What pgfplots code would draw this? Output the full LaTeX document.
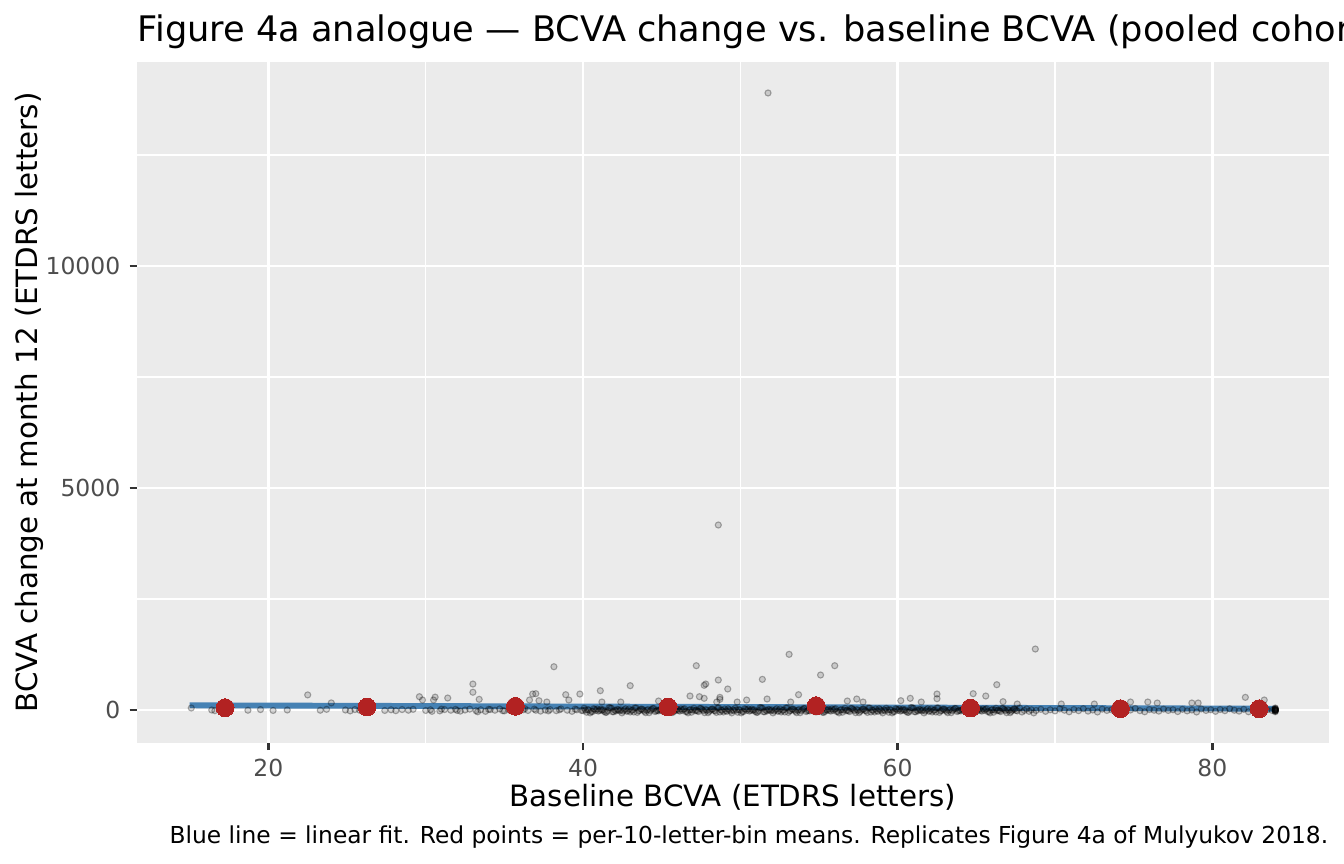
\documentclass[border=0pt]{standalone}
\usepackage{fontspec}
\setmainfont{DejaVu Sans}
\usepackage{pgfplots}
\pgfplotsset{compat=1.18}

\definecolor{panelgray}{HTML}{EBEBEB}
\definecolor{tickgray}{HTML}{333333}
\definecolor{labelgray}{HTML}{4D4D4D}
\definecolor{steelblue}{HTML}{4682B4}
\definecolor{firebrick}{HTML}{B22222}

\begin{document}
\begin{tikzpicture}
\begin{axis}[
  at={(51.375pt,45.49pt)}, anchor=south west,
  scale only axis, width=446.9pt, height=255.15pt,
  xmin=11.65, xmax=87.4, ymin=-736, ymax=14586,
  axis background/.style={fill=panelgray},
  axis line style={draw=none},
  xtick={20,40,60,80}, ytick={0,5000,10000},
  minor xtick={30,50,70}, minor ytick={2500,7500,12500},
  grid=both,
  major grid style={white, line width=1.07pt},
  minor grid style={white, line width=0.53pt},
  tick align=outside, xtick pos=lower, ytick pos=lower,
  major tick length=2.75pt, minor tick length=0pt,
  major tick style={tickgray, line width=1.07pt},
  ticklabel style={font=\fontsize{8.8}{10}\selectfont, text=labelgray},
  /pgf/number format/assume math mode=true,
  /pgf/number format/1000 sep={},
  scaled ticks=false,
]

% individual eyes
\addplot[only marks, mark=*, mark size=1.15pt,
  mark options={draw=black, fill=black, draw opacity=0.3, fill opacity=0.14, line width=0.4pt}]
coordinates {
(15.1,45)(16.4,0)(16.6,-15)(17.6,5)(18.7,-5)(19.5,10)(20.3,-10)(21.2,0)(23.3,-5)(23.7,15)
(24.9,0)(25.2,-20)(25.5,10)(25.8,-5)(26.6,20)(27.4,-10)(27.8,5)(28.1,-15)(28.5,10)(28.9,-5)(29.2,15)
(30.0,-10)(30.3,5)(30.9,-20)(31.2,10)(31.6,-5)(31.9,15)(32.2,-25)(32.5,0)(32.8,20)(33.2,-15)
(33.5,5)(33.8,-30)(34.1,10)(34.4,-5)(34.7,25)(35.0,-20)(35.3,0)(35.6,15)(35.9,-35)(36.2,5)
(36.5,-10)(36.9,20)(37.3,-25)(37.6,0)(37.9,10)(38.3,-15)(38.6,25)(39.0,-5)(39.3,-30)(39.6,5)(39.9,-10)
(30.4,-30)(31.0,20)(32.0,-10)(33.3,-40)(34.0,15)(34.9,-15)(35.5,-25)(36.3,30)(37.0,-5)(37.8,-20)(38.5,5)(39.5,20)
(40.0,-15)(40.15,0)(40.3,10)(40.45,-65)(40.6,-35)(40.75,15)(40.9,25)(41.05,-10)(41.2,-5)(41.35,-30)(41.5,-50)(41.65,55)(41.8,40)(41.95,-40)(42.1,-20)(42.25,5)
(42.4,5)(42.55,-25)(42.7,30)(42.85,-15)(43.0,-45)(43.15,0)(43.3,45)(43.45,-55)(43.6,-10)(43.75,20)(43.9,-30)(44.05,-5)(44.2,-60)(44.35,10)(44.5,35)(44.65,-20)
(44.8,-20)(44.95,15)(45.1,-5)(45.25,-40)(45.4,50)(45.55,-15)(45.7,-55)(45.85,5)(46.0,20)(46.15,-25)(46.3,-10)(46.45,30)(46.6,-35)(46.75,0)(46.9,-50)(47.05,40)
(47.2,-5)(47.35,-35)(47.5,35)(47.65,-15)(47.8,10)(47.95,-60)(48.1,0)(48.25,20)(48.4,-20)(48.55,45)(48.7,-45)(48.85,-10)(49.0,25)(49.15,-30)(49.3,5)(49.45,-65)
(49.6,-15)(49.75,0)(49.9,10)(50.05,-65)(50.2,-35)(50.35,15)(50.5,25)(50.65,-10)(50.8,-5)(50.95,-30)(51.1,-50)(51.25,55)(51.4,40)(51.55,-40)(51.7,-20)(51.85,5)
(52.0,5)(52.15,-25)(52.3,30)(52.45,-15)(52.6,-45)(52.75,0)(52.9,45)(53.05,-55)(53.2,-10)(53.35,20)(53.5,-30)(53.65,-5)(53.8,-60)(53.95,10)(54.1,35)(54.25,-20)
(54.4,-20)(54.55,15)(54.7,-5)(54.85,-40)(55.0,50)(55.15,-15)(55.3,-55)(55.45,5)(55.6,20)(55.75,-25)(55.9,-10)(56.05,30)(56.2,-35)(56.35,0)(56.5,-50)(56.65,40)
(56.8,-5)(56.95,-35)(57.1,35)(57.25,-15)(57.4,10)(57.55,-60)(57.7,0)(57.85,20)(58.0,-20)(58.15,45)(58.3,-45)(58.45,-10)(58.6,25)(58.75,-30)(58.9,5)(59.05,-65)
(59.2,-15)(59.35,0)(59.5,10)(59.65,-65)(59.8,-35)(59.95,15)(60.1,25)(60.25,-10)(60.4,-5)(60.55,-30)(60.7,-50)(60.85,55)(61.0,40)(61.15,-40)(61.3,-20)(61.45,5)
(61.6,5)(61.75,-25)(61.9,30)(62.05,-15)(62.2,-45)(62.35,0)(62.5,45)(62.65,-55)(62.8,-10)(62.95,20)(63.1,-30)(63.25,-5)(63.4,-60)(63.55,10)(63.7,35)(63.85,-20)
(64.0,-20)(64.15,15)(64.3,-5)(64.45,-40)(64.6,50)(64.75,-15)(64.9,-55)(65.05,5)(65.2,20)(65.35,-25)(65.5,-10)(65.65,30)(65.8,-35)(65.95,0)(66.1,-50)(66.25,40)
(66.4,-5)(66.55,-35)(66.7,35)(66.85,-15)(67.0,10)(67.15,-60)(67.3,0)(67.45,20)(67.6,-20)(67.75,45)(67.9,-45)(68.05,-10)(68.2,25)(68.35,-30)(68.5,5)(68.65,-65)
(40.075,40)(40.225,-50)(40.375,0)(40.525,-35)(40.675,30)(40.825,-10)(40.975,-25)(41.125,20)(41.275,5)(41.425,-55)(41.575,-15)(41.725,50)(41.875,-40)(42.025,-5)(42.175,15)(42.325,-20)
(42.475,-65)(42.625,5)(42.775,-30)(42.925,25)(43.075,-10)(43.225,-45)(43.375,45)(43.525,-20)(43.675,20)(43.825,0)(43.975,-60)(44.125,10)(44.275,-15)(44.425,35)(44.575,-35)(44.725,-5)
(44.875,5)(45.025,-20)(45.175,-40)(45.325,40)(45.475,55)(45.625,-50)(45.775,-30)(45.925,-5)(46.075,-10)(46.225,25)(46.375,15)(46.525,-35)(46.675,-65)(46.825,10)(46.975,0)(47.125,-15)
(47.275,-20)(47.425,35)(47.575,10)(47.725,-60)(47.875,-5)(48.025,-30)(48.175,20)(48.325,-10)(48.475,-55)(48.625,45)(48.775,0)(48.925,-45)(49.075,-15)(49.225,30)(49.375,-25)(49.525,5)
(49.675,40)(49.825,-50)(49.975,0)(50.125,-35)(50.275,30)(50.425,-10)(50.575,-25)(50.725,20)(50.875,5)(51.025,-55)(51.175,-15)(51.325,50)(51.475,-40)(51.625,-5)(51.775,15)(51.925,-20)
(52.075,-65)(52.225,5)(52.375,-30)(52.525,25)(52.675,-10)(52.825,-45)(52.975,45)(53.125,-20)(53.275,20)(53.425,0)(53.575,-60)(53.725,10)(53.875,-15)(54.025,35)(54.175,-35)(54.325,-5)
(54.475,5)(54.625,-20)(54.775,-40)(54.925,40)(55.075,55)(55.225,-50)(55.375,-30)(55.525,-5)(55.675,-10)(55.825,25)(55.975,15)(56.125,-35)(56.275,-65)(56.425,10)(56.575,0)(56.725,-15)
(56.875,-20)(57.025,35)(57.175,10)(57.325,-60)(57.475,-5)(57.625,-30)(57.775,20)(57.925,-10)(58.075,-55)(58.225,45)(58.375,0)(58.525,-45)(58.675,-15)(58.825,30)(58.975,-25)(59.125,5)
(59.275,40)(59.425,-50)(59.575,0)(59.725,-35)(59.875,30)(60.025,-10)(60.175,-25)(60.325,20)(60.475,5)(60.625,-55)(60.775,-15)(60.925,50)(61.075,-40)(61.225,-5)(61.375,15)(61.525,-20)
(61.675,-65)(61.825,5)(61.975,-30)(62.125,25)(62.275,-10)(62.425,-45)(62.575,45)(62.725,-20)(62.875,20)(63.025,0)(63.175,-60)(63.325,10)(63.475,-15)(63.625,35)(63.775,-35)(63.925,-5)
(64.075,5)(64.225,-20)(64.375,-40)(64.525,40)(64.675,55)(64.825,-50)(64.975,-30)(65.125,-5)(65.275,-10)(65.425,25)(65.575,15)(65.725,-35)(65.875,-65)(66.025,10)(66.175,0)(66.325,-15)
(66.475,-20)(66.625,35)(66.775,10)(66.925,-60)(67.075,-5)(67.225,-30)(67.375,20)(67.525,-10)
(68.8,-10)(69.1,15)(69.4,-30)(69.7,5)(70.0,-20)(70.3,25)(70.6,-5)(70.9,-40)(71.2,10)(71.5,-15)
(71.8,30)(72.1,-25)(72.4,0)(72.7,-45)(73.0,20)(73.3,-10)(73.6,5)(73.9,-30)(74.2,15)(74.5,-20)
(74.8,0)(75.1,35)(75.4,-15)(75.7,-40)(76.0,10)(76.3,-5)(76.6,-25)(76.9,20)(77.2,-10)(77.5,5)
(77.8,-35)(78.1,15)(78.4,-20)(78.7,0)(79.0,-45)(79.3,25)(79.6,-10)(79.9,5)(80.2,-30)(80.5,10)
(80.8,-15)(81.1,30)(81.4,-5)(81.7,-25)(82.0,15)(82.3,-40)(82.6,0)(82.9,20)(83.2,-20)(83.5,5)(83.8,-10)
(84,-40)(84,-25)(84,-10)(84,0)(84,10)(84,20)(84,35)(84,-5)(84,5)(84,15)(84,-20)(84,45)
(22.5,340)(24.0,160)(29.6,300)(29.8,225)(30.6,290)(30.5,225)(31.4,270)(33.0,585)(33.0,400)(33.4,240)
(36.6,225)(36.8,360)(37.0,368)(37.2,210)(37.7,180)(38.15,975)(38.9,345)(39.1,225)(39.8,360)(41.1,435)
(41.2,180)(42.4,180)(43.0,548)(44.8,203)(47.2,998)(47.7,556)(47.8,585)(48.6,675)(46.8,315)(47.4,300)
(47.7,263)(49.2,473)(48.7,240)(48.5,180)(48.6,4166)(48.7,285)(49.8,180)(50.4,225)(51.4,690)(51.7,248)
(51.76,13895)(53.1,1253)(53.7,345)(53.2,180)(55.1,788)(56.0,998)(56.8,203)(57.4,248)(57.8,180)(60.2,210)
(60.8,263)(61.5,180)(62.5,360)(62.5,255)(64.8,368)(65.6,315)(66.3,570)(66.7,188)(68.75,1373)(67.6,135)
(70.4,135)(72.5,135)(74.8,180)(75.9,180)(76.5,158)(78.7,158)(79.1,158)(82.1,285)(83.3,225)
};

% linear fit
\addplot[steelblue, line width=2.2pt] coordinates {(15,106) (84,29)};

% per-10-letter-bin means
\addplot[only marks, color=firebrick, mark=*, mark size=3.35pt, mark options={draw=firebrick, fill=firebrick, line width=0pt}]
coordinates {
(17.25,52)(26.27,68)(35.70,83)(45.41,68)(54.82,97)(64.63,45)(74.16,29)(82.98,29)
};
\end{axis}

\node[anchor=base west, inner sep=0pt, font=\fontsize{13.2}{16}\selectfont]
  at (51.4pt,308.4pt) {Figure 4a analogue — BCVA change vs. baseline BCVA (pooled cohort)};
\node[anchor=base, inner sep=0pt, font=\fontsize{11}{13}\selectfont]
  at (274.8pt,21.4pt) {Baseline BCVA (ETDRS letters)};
\node[anchor=base, rotate=90, inner sep=0pt, font=\fontsize{11}{13}\selectfont]
  at (13.9pt,173.1pt) {BCVA change at month 12 (ETDRS letters)};
\node[anchor=base east, inner sep=0pt, font=\fontsize{8.75}{10}\selectfont]
  at (498.26pt,7.5pt) {Blue line = linear fit. Red points = per-10-letter-bin means. Replicates Figure 4a of Mulyukov 2018.};

\pgfresetboundingbox
\path[use as bounding box] (0,0) rectangle (504pt,324pt);
\end{tikzpicture}
\end{document}
